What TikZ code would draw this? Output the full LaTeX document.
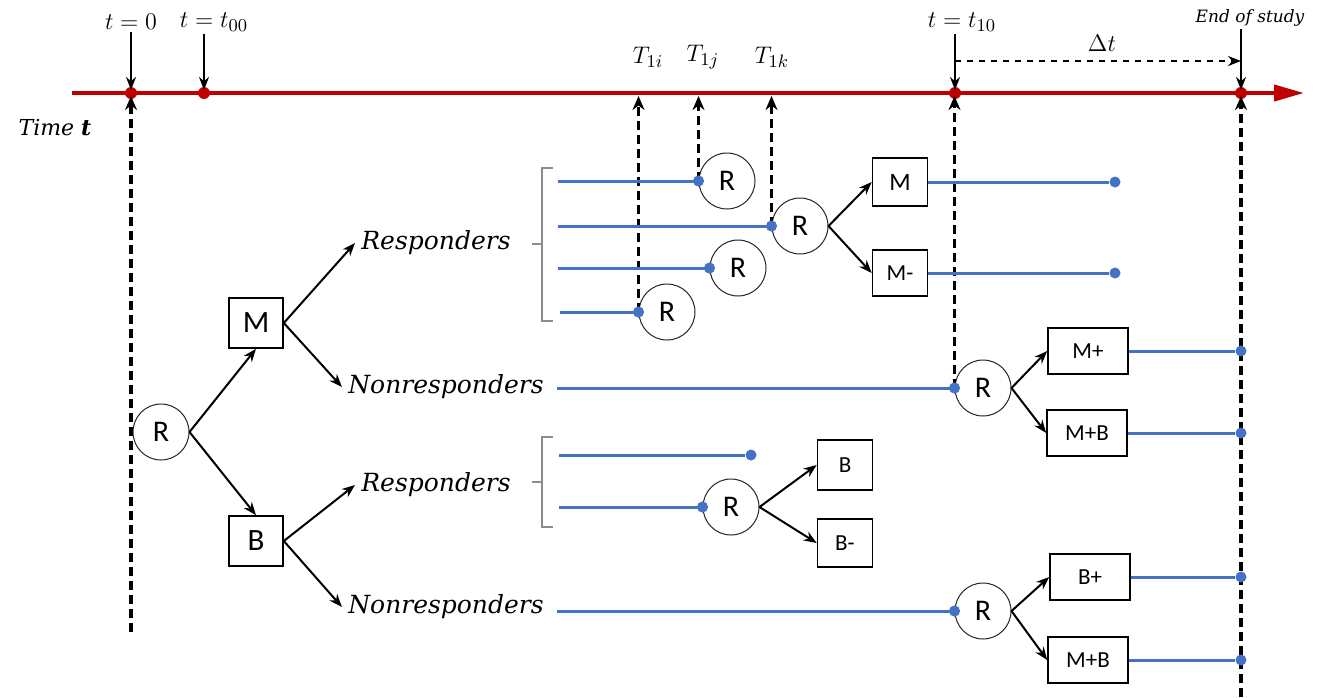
\documentclass[tikz,border=0pt]{standalone}
\usepackage[no-math]{fontspec}
\newfontfamily\labfont{DejaVu Serif}
\newfontfamily\boxfont{Carlito}
\usetikzlibrary{arrows.meta}
\definecolor{axisred}{RGB}{192,0,0}
\definecolor{lineblue}{RGB}{68,114,196}
\definecolor{brgray}{RGB}{140,140,140}
\begin{document}
\begin{tikzpicture}[x=0.5pt,y=-0.5pt,
  rc/.style={circle,draw=black!85,line width=0.5pt,fill=white,minimum size=28pt,inner sep=0pt,font=\boxfont\fontsize{15}{15}\selectfont},
  bigbox/.style={draw,line width=0.8pt,fill=white,minimum width=27pt,minimum height=25pt,inner sep=0pt,font=\boxfont\fontsize{15.5}{16}\selectfont},
  smallbox/.style={draw,line width=0.8pt,fill=white,minimum width=27.5pt,minimum height=24pt,inner sep=0pt,font=\boxfont\fontsize{11.5}{12}\selectfont},
  widebox/.style={smallbox,minimum width=40pt,minimum height=23pt},
  arr/.style={-{Stealth[length=6.5pt,width=5pt]},line width=1pt},
  bline/.style={lineblue,line width=1.5pt},
  enddot/.style={circle,fill=lineblue,inner sep=0pt,minimum size=5.5pt},
  dsh/.style={dash pattern=on 4.5pt off 2.5pt,line width=1.8pt,-{Stealth[length=7pt,width=6pt]},shorten >=1.5pt},
  mlab/.style={inner sep=1pt,font=\fontsize{13}{14}\selectfont},
  lab/.style={inner sep=3pt,font=\labfont\itshape\fontsize{12.5}{14}\selectfont},
  brk/.style={brgray,line width=0.6pt}
]
\useasboundingbox (0,0) rectangle (1318,697);

% ---------- time axis ----------
\coordinate (axL) at (72,93);
\coordinate (axR) at (1304,93);
\coordinate (d0) at (131,93);
\coordinate (d00) at (204,93);
\coordinate (d10) at (955,93);
\coordinate (dE) at (1241,93);
\draw[axisred,line width=2pt,-{Triangle[length=15pt,width=8pt]}] (axL) -- (axR);
\foreach \p in {d0,d00,d10,dE} \fill[axisred] (\p) circle (3pt);

\node[inner sep=0pt,font=\labfont\itshape\fontsize{11}{12}\selectfont] (time) at (55,128) {Time \textbf{t}};

% ---------- top labels ----------
\node[mlab] (l0) at (131,22) {$t=0$};
\node[mlab] (l00) at (214,22) {$t=t_{00}$};
\node[mlab] (l10) at (962,22) {$t=t_{10}$};
\node[inner sep=1pt,font=\labfont\itshape\fontsize{8.5}{10}\selectfont] (lE) at (1250,18) {End of study};
\node[mlab] (dt) at (1102,43) {$\Delta t$};
\node[mlab] (T1i) at (648,57) {$T_{1i}$};
\node[mlab] (T1j) at (703,57) {$T_{1j}$};
\node[mlab] (T1k) at (772,57) {$T_{1k}$};

\draw[arr,shorten >=1.5pt] (l0.south -| d0) -- (d0);
\draw[arr,shorten >=1.5pt] (l00.south -| d00) -- (d00);
\draw[arr,shorten >=1.5pt] (l10.south -| d10) -- (d10);
\draw[arr,shorten >=1.5pt] (lE.south -| dE) -- (dE);
\draw[dashed,line width=0.9pt,-{Stealth[length=6.5pt,width=5pt]}] ([yshift=16pt]d10) -- ([yshift=16pt]dE);

% ---------- nodes ----------
\node[rc] (R0) at (161,432) {R};
\node[bigbox] (M) at (256,323) {M};
\node[bigbox] (B) at (256,541) {B};

\node[lab] (resp1) at (436,243) {Responders};
\node[lab] (non1) at (446,387) {Nonresponders};
\node[lab] (resp2) at (436,485) {Responders};
\node[lab] (non2) at (446,607) {Nonresponders};

\node[rc] (r1) at (727,181) {R};
\node[rc] (r2) at (800,226) {R};
\node[rc] (r3) at (738,268) {R};
\node[rc] (r4) at (667,312) {R};
\node[rc] (rn1) at (983,388) {R};
\node[rc] (rb) at (731,507) {R};
\node[rc] (rn2) at (983,611) {R};

\node[smallbox,font=\boxfont\fontsize{12.5}{13}\selectfont] (Mt) at (900,182) {M};
\node[smallbox,minimum height=23pt] (Mm) at (900,273) {M-};
\node[widebox] (Mp) at (1088,351) {M+};
\node[widebox] (MB1) at (1087,433) {M+B};
\node[smallbox,minimum height=25pt] (Bt) at (845,465) {B};
\node[smallbox] (Bm) at (845,543) {B-};
\node[widebox] (Bp) at (1090,577) {B+};
\node[widebox] (MB2) at (1088,660) {M+B};

% ---------- dashed time markers ----------
\coordinate (b0) at (131,632);
\coordinate (bE) at (1241,697);
\draw[dsh] (b0) -- (d0);
\draw[dsh] (bE) -- (dE);
\draw[dsh] (rn1.west) -- (rn1.west |- d0);
\draw[dsh] (r4.west) -- (r4.west |- d0);
\draw[dsh] (r1.west) -- (r1.west |- d0);
\draw[dsh] (r2.west) -- (r2.west |- d0);

% ---------- tree arrows ----------
\draw[arr] (R0.east) -- (M.south);
\draw[arr] (R0.east) -- (B.north);
\draw[arr] (M.east) -- (resp1.west);
\draw[arr] (M.east) -- (non1.west);
\draw[arr] (B.east) -- (resp2.west);
\draw[arr] (B.east) -- (non2.west);
\draw[arr] (r2.east) -- (Mt.west);
\draw[arr] (r2.east) -- (Mm.west);
\draw[arr] (rn1.east) -- (Mp.west);
\draw[arr] (rn1.east) -- (MB1.west);
\draw[arr] (rb.east) -- (Bt.west);
\draw[arr] (rb.east) -- (Bm.west);
\draw[arr] (rn2.east) -- (Bp.west);
\draw[arr] (rn2.east) -- (MB2.west);

% ---------- brackets ----------
\draw[brk] (553,168) -- (542,168) -- (542,321) -- (553,321);
\draw[brk] (532,244) -- (542,244);
\draw[brk] (553,437) -- (542,437) -- (542,527) -- (553,527);
\draw[brk] (532,482) -- (542,482);

% ---------- blue follow-up lines ----------
\coordinate (s1) at (558,181);
\coordinate (s2) at (558,226);
\coordinate (s3) at (558,268);
\coordinate (s4) at (560,312);
\coordinate (sn1) at (557,388);
\coordinate (sb1) at (559,455);
\coordinate (sb2) at (559,507);
\coordinate (sn2) at (557,611);
\node[enddot] (eb1) at (751,455) {};
\node[enddot] (eMt) at (1115,182) {};
\node[enddot] (eMm) at (1115,273) {};
\node[enddot] (eMp) at (1241,351) {};
\node[enddot] (eMB1) at (1241,433) {};
\node[enddot] (eBp) at (1241,577) {};
\node[enddot] (eMB2) at (1241,660) {};

\draw[bline] (s1) -- (r1.west);
\draw[bline] (s2) -- (r2.west);
\draw[bline] (s3) -- (r3.west);
\draw[bline] (s4) -- (r4.west);
\draw[bline] (sn1) -- (rn1.west);
\draw[bline] (sb1) -- (eb1);
\draw[bline] (sb2) -- (rb.west);
\draw[bline] (sn2) -- (rn2.west);
\draw[bline] (Mt.east) -- (eMt);
\draw[bline] (Mm.east) -- (eMm);
\draw[bline] (Mp.east) -- (eMp);
\draw[bline] (MB1.east) -- (eMB1);
\draw[bline] (Bp.east) -- (eBp);
\draw[bline] (MB2.east) -- (eMB2);
\foreach \c in {r1,r2,r3,r4,rn1,rb,rn2} \fill[lineblue] (\c.west) circle (2.8pt);
\end{tikzpicture}
\end{document}
